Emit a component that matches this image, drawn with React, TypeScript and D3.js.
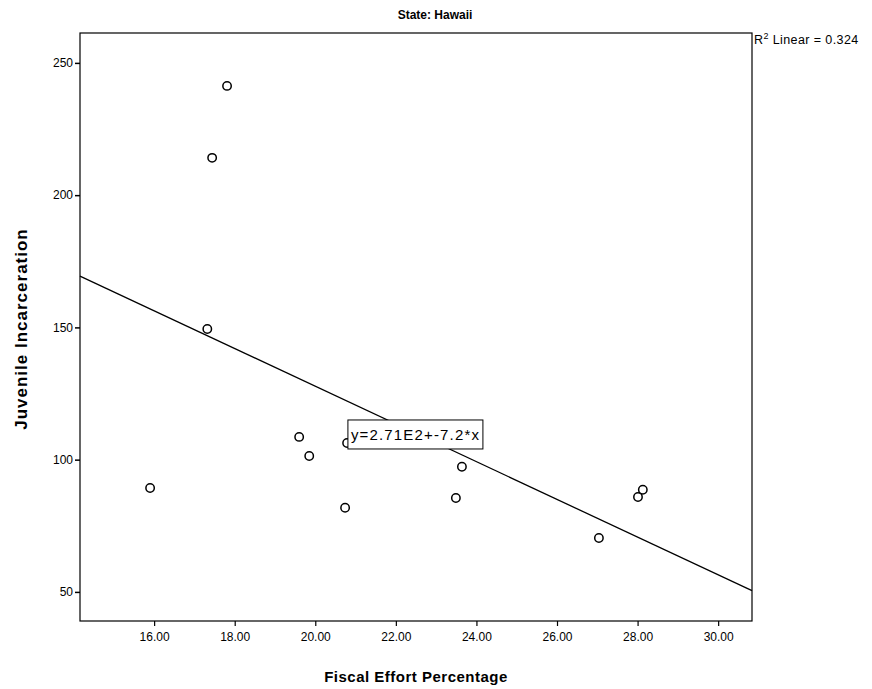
import React, { useRef, useEffect } from "react";
import * as d3 from "d3";

// Hawaii: fiscal effort vs juvenile incarceration
const fiscalEffort = [15.9, 17.32, 17.44, 17.81, 19.6, 19.85, 20.74, 20.79, 23.49, 23.64, 27.04, 28.01, 28.13];
const incarceration = [89.3, 149.4, 214.1, 241.3, 108.6, 101.4, 81.8, 106.3, 85.5, 97.3, 70.4, 85.9, 88.6];
const xTicks = [16, 18, 20, 22, 24, 26, 28, 30];
const yTicks = [50, 100, 150, 200, 250];
const xDomain = [14.16, 30.84];
const yDomain = [39, 261.3];
const equationLabel = "y=2.71E2+-7.2*x";
const r2Label = "0.324";
// top-left corner of the equation box, in data units
const equationAt = [20.81, 115.0];

const sans = "'Liberation Sans', Arial, sans-serif";

const App = () => {
  const ref = useRef<SVGSVGElement | null>(null);

  useEffect(() => {
    if (!ref.current) return;
    const svg = d3.select(ref.current);
    svg.selectAll("*").remove();

    const margin = { top: 33, right: 120, bottom: 68, left: 80 };
    const W = 872;
    const H = 689;
    const width = W - margin.left - margin.right;
    const height = H - margin.top - margin.bottom;

    const x = d3.scaleLinear().domain(xDomain).range([0, width]);
    const y = d3.scaleLinear().domain(yDomain).range([height, 0]);

    const g = svg.append("g").attr("transform", `translate(${margin.left},${margin.top})`);

    // least squares fit
    const mx = d3.mean(fiscalEffort) || 0;
    const my = d3.mean(incarceration) || 0;
    let sxy = 0;
    let sxx = 0;
    fiscalEffort.forEach((v, i) => {
      sxy += (v - mx) * (incarceration[i] - my);
      sxx += (v - mx) ** 2;
    });
    const slope = sxy / sxx;
    const intercept = my - slope * mx;

    // axes
    const yAxis = g
      .append("g")
      .call(d3.axisLeft(y).tickValues(yTicks).tickSize(5).tickPadding(2).tickFormat(d3.format("d")));
    yAxis.select(".domain").remove();
    yAxis.selectAll("line").attr("stroke", "#000").attr("stroke-width", 1.5);
    yAxis.selectAll("text").style("font-family", sans).style("font-size", "12px").style("fill", "#000");

    const xAxis = g
      .append("g")
      .attr("transform", `translate(0,${height})`)
      .call(d3.axisBottom(x).tickValues(xTicks).tickSize(5).tickPadding(6).tickFormat(d3.format(".2f")));
    xAxis.select(".domain").remove();
    xAxis.selectAll("line").attr("stroke", "#000").attr("stroke-width", 1.2);
    xAxis.selectAll("text").style("font-family", sans).style("font-size", "12px").style("fill", "#000");

    // fit line
    const line = d3
      .line<number>()
      .x((d) => x(d))
      .y((d) => y(intercept + slope * d));
    g.append("path")
      .datum(xDomain)
      .attr("fill", "none")
      .attr("stroke", "#000")
      .attr("stroke-width", 1.3)
      .attr("d", line);

    // points
    g.selectAll(".pt")
      .data(fiscalEffort)
      .enter()
      .append("circle")
      .attr("class", "pt")
      .attr("cx", (d) => x(d))
      .attr("cy", (_, i) => y(incarceration[i]))
      .attr("r", 4.2)
      .attr("fill", "#fff")
      .attr("stroke", "#000")
      .attr("stroke-width", 1.5);

    // equation label
    const lx = x(equationAt[0]);
    const ly = y(equationAt[1]);
    g.append("rect")
      .attr("x", lx)
      .attr("y", ly)
      .attr("width", 135)
      .attr("height", 29)
      .attr("fill", "#fff")
      .attr("stroke", "#000")
      .attr("stroke-width", 1);
    g.append("text")
      .attr("x", lx + 3)
      .attr("y", ly + 20)
      .attr("textLength", 128)
      .style("font-family", sans)
      .style("font-size", "15px")
      .text(equationLabel);

    // frame
    g.append("rect")
      .attr("width", width)
      .attr("height", height)
      .attr("fill", "none")
      .attr("stroke", "#000")
      .attr("stroke-width", 1.2);

    // title, R2, axis titles
    svg
      .append("text")
      .attr("x", 435)
      .attr("y", 19)
      .attr("text-anchor", "middle")
      .style("font-family", sans)
      .style("font-weight", "bold")
      .style("font-size", "12px")
      .text("State: Hawaii");

    const r2t = svg
      .append("text")
      .attr("x", margin.left + width + 2)
      .attr("y", 44)
      .style("font-family", sans)
      .style("font-size", "12.5px")
      .style("letter-spacing", "0.4px");
    r2t.append("tspan").text("R");
    r2t.append("tspan").attr("dy", -5).style("font-size", "9px").text("2");
    r2t.append("tspan").attr("dy", 5).text(` Linear = ${r2Label}`);

    svg
      .append("text")
      .attr("transform", `translate(27,${margin.top + height / 2 + 2}) rotate(-90)`)
      .attr("text-anchor", "middle")
      .style("font-family", sans)
      .style("font-weight", "bold")
      .style("font-size", "17px")
      .style("letter-spacing", "1px")
      .text("Juvenile Incarceration");

    svg
      .append("text")
      .attr("x", 416)
      .attr("y", 682)
      .attr("text-anchor", "middle")
      .style("font-family", sans)
      .style("font-weight", "bold")
      .style("font-size", "15px")
      .style("letter-spacing", "0.5px")
      .text("Fiscal Effort Percentage");
  }, []);

  return (
    <svg
      ref={ref}
      width={872}
      height={689}
      style={{ position: "absolute", left: 0, top: 0, background: "#fff" }}
    />
  );
};

export default App;
